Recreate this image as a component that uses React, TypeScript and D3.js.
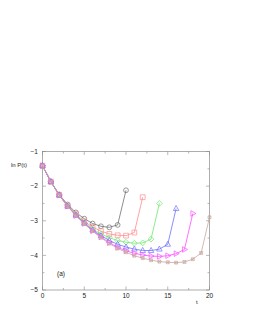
import React, { useRef, useEffect } from "react";
import * as d3 from "d3";

// ln P(t) for runs ending at t = 10, 12, ..., 20
const seriesBlack = [-1.41, -1.87, -2.24, -2.53, -2.76, -2.94, -3.08, -3.16, -3.19, -3.12, -2.12];
const seriesRed = [-1.41, -1.87, -2.25, -2.56, -2.81, -3.02, -3.18, -3.3, -3.38, -3.42, -3.43, -3.34, -2.32];
const seriesGreen = [-1.41, -1.87, -2.26, -2.57, -2.83, -3.05, -3.24, -3.38, -3.49, -3.57, -3.62, -3.65, -3.64, -3.53, -2.5];
const seriesBlue = [-1.41, -1.87, -2.26, -2.58, -2.84, -3.07, -3.27, -3.43, -3.57, -3.68, -3.76, -3.82, -3.86, -3.86, -3.82, -3.68, -2.65];
const seriesMagenta = [-1.41, -1.87, -2.26, -2.58, -2.85, -3.08, -3.29, -3.47, -3.63, -3.77, -3.87, -3.94, -3.99, -4.02, -4.03, -4.01, -3.95, -3.83, -2.79];
const seriesBrown = [-1.41, -1.87, -2.26, -2.58, -2.85, -3.09, -3.3, -3.49, -3.66, -3.8, -3.91, -4.01, -4.08, -4.14, -4.18, -4.2, -4.21, -4.19, -4.11, -3.93, -2.9];

const xTicks = [0, 5, 10, 15, 20];
const yTicks = [-1, -2, -3, -4, -5];

const series = [
  { values: seriesBlack, color: "#707070", marker: "circle" },
  { values: seriesRed, color: "#ff8c8c", marker: "square" },
  { values: seriesGreen, color: "#6ee86e", marker: "diamond" },
  { values: seriesBlue, color: "#7070ff", marker: "triangle" },
  { values: seriesMagenta, color: "#ff4cff", marker: "right" },
  { values: seriesBrown, color: "#c9a8a0", marker: "star" },
];

const markerPath = (type, s) => {
  switch (type) {
    case "circle":
      return `M${-s},0A${s},${s} 0 1,0 ${s},0A${s},${s} 0 1,0 ${-s},0`;
    case "square":
      return `M${-s},${-s}H${s}V${s}H${-s}Z`;
    case "diamond":
      return `M0,${-s * 1.2}L${s * 1.2},0L0,${s * 1.2}L${-s * 1.2},0Z`;
    case "triangle":
      return `M0,${-s * 1.3}L${s * 1.15},${s * 0.8}L${-s * 1.15},${s * 0.8}Z`;
    case "right":
      return `M${s * 1.3},0L${-s * 0.8},${s * 1.15}L${-s * 0.8},${-s * 1.15}Z`;
    default:
      return `M${-s * 0.8},${-s * 0.8}H${s * 0.8}V${s * 0.8}H${-s * 0.8}ZM${-s * 0.8},${-s * 0.8}L${s * 0.8},${s * 0.8}M${s * 0.8},${-s * 0.8}L${-s * 0.8},${s * 0.8}`;
  }
};

const Chart = () => {
  const svgRef = useRef(null);

  useEffect(() => {
    const svg = d3.select(svgRef.current);
    svg.selectAll("*").remove();

    const width = 253;
    const height = 327;
    const margin = { top: 151.5, right: 43.5, bottom: 37, left: 42.5 };

    svg.attr("width", width).attr("height", height);

    const x = d3.scaleLinear().domain([0, 20]).range([margin.left, width - margin.right]);
    const y = d3.scaleLinear().domain([-5, -1]).range([height - margin.bottom, margin.top]);

    const frame = "#8a8a8a";
    const font = "Liberation Sans, Arial, sans-serif";

    // ticks (inward, on all four sides)
    const g = svg.append("g").attr("stroke", frame).attr("stroke-width", 0.6);
    d3.range(0, 20.01, 2.5).forEach(t => {
      const len = t % 5 === 0 ? 3.5 : 2;
      g.append("line").attr("x1", x(t)).attr("x2", x(t)).attr("y1", y(-5)).attr("y2", y(-5) - len);
      g.append("line").attr("x1", x(t)).attr("x2", x(t)).attr("y1", y(-1)).attr("y2", y(-1) + len);
    });
    d3.range(-5, -0.99, 0.5).forEach(v => {
      const len = Number.isInteger(v) ? 3.5 : 2;
      g.append("line").attr("x1", x(0)).attr("x2", x(0) + len).attr("y1", y(v)).attr("y2", y(v));
      g.append("line").attr("x1", x(20)).attr("x2", x(20) - len).attr("y1", y(v)).attr("y2", y(v));
    });

    svg
      .append("rect")
      .attr("x", x(0))
      .attr("y", y(-1))
      .attr("width", x(20) - x(0))
      .attr("height", y(-5) - y(-1))
      .attr("fill", "none")
      .attr("stroke", frame)
      .attr("stroke-width", 0.7);

    // tick labels
    svg
      .selectAll("text.xt")
      .data(xTicks)
      .join("text")
      .attr("class", "xt")
      .attr("x", d => x(d))
      .attr("y", y(-5) + 7.5)
      .attr("text-anchor", "middle")
      .style("font-family", font)
      .style("font-size", "6.5px")
      .attr("fill", "#222")
      .text(d => d);

    svg
      .selectAll("text.yt")
      .data(yTicks)
      .join("text")
      .attr("class", "yt")
      .attr("x", x(0) - 4.5)
      .attr("y", d => y(d) + 2.3)
      .attr("text-anchor", "end")
      .style("font-family", font)
      .style("font-size", "6.5px")
      .attr("fill", "#222")
      .text(d => "\u2212" + Math.abs(d));

    svg
      .append("text")
      .attr("x", 11)
      .attr("y", 167)
      .style("font-family", font)
      .style("font-size", "6px")
      .attr("fill", "#222")
      .text("ln P(t)");

    svg
      .append("text")
      .attr("x", 196)
      .attr("y", 304)
      .style("font-family", font)
      .style("font-size", "6px")
      .attr("fill", "#222")
      .text("t");

    svg
      .append("text")
      .attr("x", 57)
      .attr("y", 276)
      .style("font-family", font)
      .style("font-size", "6.5px")
      .attr("fill", "#222")
      .text("(a)");

    const line = d3
      .line()
      .x((d, i) => x(i))
      .y(d => y(d));

    series.forEach(s => {
      svg
        .append("path")
        .datum(s.values)
        .attr("d", line)
        .attr("fill", "none")
        .attr("stroke", s.color)
        .attr("stroke-width", 0.8);

      svg
        .append("g")
        .selectAll("path")
        .data(s.values)
        .join("path")
        .attr("transform", (d, i) => `translate(${x(i)},${y(d)})`)
        .attr("d", markerPath(s.marker, s.marker === "star" ? 1.8 : 2.4))
        .attr("fill", "none")
        .attr("stroke", s.color)
        .attr("stroke-width", 0.7);
    });
  }, []);

  return <svg ref={svgRef} style={{ position: "absolute", left: 0, top: 0 }} />;
};

export default function App() {
  return <Chart />;
}
